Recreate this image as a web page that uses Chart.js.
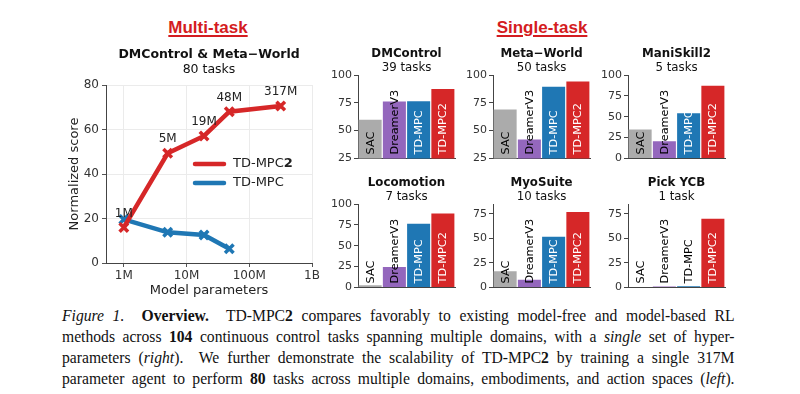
<!DOCTYPE html>
<html>
<head>
<meta charset="utf-8">
<script src="https://cdn.jsdelivr.net/npm/chart.js@4.4.0/dist/chart.umd.min.js"></script>
<style>
    html, body { margin: 0; padding: 0; background: #fff; }
    #page { position: relative; width: 800px; height: 394px; overflow: hidden; }
    canvas { position: absolute; }
    .heading {
        position: absolute; top: 18px; transform: translateX(-50%);
        font: bold 17px 'Liberation Sans', Arial, sans-serif; line-height: 20px;
        color: #d41c21; text-decoration: underline; text-decoration-thickness: 1.5px;
        text-underline-offset: 2px; white-space: nowrap;
    }
    #caption {
        position: absolute; left: 62px; top: 305px; width: 731px;
        transform: scaleX(0.92); transform-origin: 0 0;
        font: 17px 'Liberation Serif', 'Times New Roman', serif; line-height: 21px; color: #111;
    }
    #caption div { text-align: justify; text-align-last: justify; white-space: nowrap; }
</style>
</head>
<body>
<div id="page">
    <div class="heading" style="left: 208px">Multi-task</div>
    <div class="heading" style="left: 542px">Single-task</div>
    <canvas id="multi" width="330" height="300" style="left: 0; top: 0"></canvas>
    <div id="caption">
        <div><i>Figure 1.</i>&nbsp; <b>Overview.</b>&nbsp; TD-MPC<b>2</b> compares favorably to existing model-free and model-based RL</div>
        <div>methods across <b>104</b> continuous control tasks spanning multiple domains, with a <i>single</i> set of hyper-</div>
        <div>parameters (<i>right</i>).&nbsp; We further demonstrate the scalability of TD-MPC<b>2</b> by training a single 317M</div>
        <div>parameter agent to perform <b>80</b> tasks across multiple domains, embodiments, and action spaces (<i>left</i>).</div>
    </div>
</div>
<script>
// Multi-task: score vs model size
const paramCounts = [1e6, 5e6, 19e6, 48e6, 317e6];
const paramLabels = ['1M', '5M', '19M', '48M', '317M'];
const tdmpc2Scores = [16, 49.3, 57.1, 68, 70.6];
const tdmpcParams = [1e6, 5e6, 19e6, 48e6];
const tdmpcScores = [19.6, 13.8, 12.6, 6.4];
const paramTicks = [1e6, 1e7, 1e8, 1e9];
const paramTickLabels = ['1M', '10M', '100M', '1B'];
const scoreTicks = [0, 20, 40, 60, 80];

// Single-task: score per method and domain
const methods = ['SAC', 'DreamerV3', 'TD-MPC', 'TD-MPC2'];
const domains = ['DMControl', 'Meta\u2212World', 'ManiSkill2', 'Locomotion', 'MyoSuite', 'Pick YCB'];
const taskCounts = ['39 tasks', '50 tasks', '5 tasks', '7 tasks', '10 tasks', '1 task'];
const dmcontrolScores = [59.8, 76.2, 76.4, 87.5];
const metaworldScores = [69, 42, 89.4, 94.2];
const maniskillScores = [34.8, 20.5, 54, 87];
const locomotionScores = [2.5, 24.5, 76.2, 88.7];
const myosuiteScores = [16.5, 7.8, 51.5, 76.8];
const pickycbScores = [0, 0.8, 1.2, 70];
const domainScores = [dmcontrolScores, metaworldScores, maniskillScores, locomotionScores, myosuiteScores, pickycbScores];
const yMins = [25, 25, 0, 0, 0, 0];
const yMaxs = [100, 100, 100, 100, 85, 85];

const RED = '#d62728';
const BLUE = '#1f77b4';
const methodColors = ['#ababab', '#9467bd', BLUE, RED];
const FONT = 'DejaVu Sans';

// Plot areas of the six bar panels (page pixels)
const panels = [
    { left: 358, right: 455, top: 75, bottom: 163 },
    { left: 493, right: 590, top: 75, bottom: 163 },
    { left: 628, right: 725, top: 75, bottom: 163 },
    { left: 358, right: 455, top: 204, bottom: 292 },
    { left: 493, right: 590, top: 204, bottom: 292 },
    { left: 628, right: 725, top: 204, bottom: 292 }
];

// Bold title + subtitle above the plot area
const panelTitlePlugin = {
    id: 'panelTitle',
    afterDraw(chart, args, opts) {
        const { ctx, chartArea } = chart;
        const cx = (chartArea.left + chartArea.right) / 2;
        ctx.save();
        ctx.fillStyle = '#111';
        ctx.textAlign = 'center';
        ctx.textBaseline = 'middle';
        ctx.font = `bold ${opts.size}px "${FONT}"`;
        ctx.fillText(opts.title, cx, chartArea.top - opts.titleOffset);
        ctx.font = `${opts.size}px "${FONT}"`;
        ctx.fillText(opts.subtitle, cx, chartArea.top - opts.subOffset);
        ctx.restore();
    }
};

// Rotated method names inside the bars
const barLabelPlugin = {
    id: 'barLabels',
    afterDatasetsDraw(chart) {
        const { ctx, chartArea } = chart;
        const meta = chart.getDatasetMeta(0);
        const values = chart.data.datasets[0].data;
        ctx.save();
        ctx.font = `11.3px "${FONT}"`;
        ctx.textAlign = 'left';
        ctx.textBaseline = 'middle';
        meta.data.forEach((bar, i) => {
            const light = i >= 2 && values[i] > 15;
            ctx.fillStyle = light ? '#fff' : '#000';
            ctx.save();
            ctx.translate(bar.x, chartArea.bottom - 4);
            ctx.rotate(-Math.PI / 2);
            ctx.fillText(methods[i], 0, 0.5);
            ctx.restore();
        });
        ctx.restore();
    }
};

// Model size labels above the TD-MPC2 points
const sizeLabelPlugin = {
    id: 'sizeLabels',
    afterDatasetsDraw(chart) {
        const { ctx } = chart;
        const meta = chart.getDatasetMeta(0);
        ctx.save();
        ctx.font = `12px "${FONT}"`;
        ctx.fillStyle = '#222';
        ctx.textAlign = 'center';
        ctx.textBaseline = 'middle';
        meta.data.forEach((pt, i) => {
            ctx.fillText(paramLabels[i], pt.x, pt.y - 14);
        });
        ctx.restore();
    }
};

// Legend inside the plot area
const innerLegendPlugin = {
    id: 'innerLegend',
    afterDraw(chart) {
        const { ctx, chartArea } = chart;
        const x0 = chartArea.left + 89;
        let y = chartArea.top + 79;
        ctx.save();
        ctx.textBaseline = 'middle';
        chart.data.datasets.forEach(ds => {
            ctx.strokeStyle = ds.borderColor;
            ctx.lineWidth = 4.5;
            ctx.lineCap = 'round';
            ctx.beginPath();
            ctx.moveTo(x0, y);
            ctx.lineTo(x0 + 29, y);
            ctx.stroke();
            ctx.fillStyle = '#222';
            ctx.font = `13px "${FONT}"`;
            const base = ds.boldSuffix ? ds.label.slice(0, -ds.boldSuffix.length) : ds.label;
            ctx.fillText(base, x0 + 38, y);
            if (ds.boldSuffix) {
                const w = ctx.measureText(base).width;
                ctx.font = `bold 13px "${FONT}"`;
                ctx.fillText(ds.boldSuffix, x0 + 38 + w, y);
            }
            y += 19;
        });
        ctx.restore();
    }
};

function initMultiTask() {
    new Chart(document.getElementById('multi'), {
        type: 'line',
        data: {
            datasets: [
                {
                    label: 'TD-MPC2',
                    boldSuffix: '2',
                    data: paramCounts.map((x, i) => ({ x: x, y: tdmpc2Scores[i] })),
                    borderColor: RED,
                    backgroundColor: RED,
                    borderWidth: 4.5,
                    pointStyle: 'crossRot',
                    pointRadius: 6,
                    pointBorderWidth: 3.5,
                    pointBorderColor: RED
                },
                {
                    label: 'TD-MPC',
                    data: tdmpcParams.map((x, i) => ({ x: x, y: tdmpcScores[i] })),
                    borderColor: BLUE,
                    backgroundColor: BLUE,
                    borderWidth: 4.5,
                    pointStyle: 'crossRot',
                    pointRadius: 6,
                    pointBorderWidth: 3.5,
                    pointBorderColor: BLUE
                }
            ]
        },
        options: {
            responsive: false,
            animation: false,
            devicePixelRatio: 1,
            layout: { padding: { left: 60, top: 85, right: 18, bottom: 0 } },
            plugins: {
                legend: { display: false },
                tooltip: { enabled: false },
                panelTitle: { title: 'DMControl & Meta\u2212World', subtitle: '80 tasks', size: 12.5, titleOffset: 30, subOffset: 15.5 }
            },
            scales: {
                x: {
                    type: 'logarithmic',
                    min: 5.2e5,
                    max: 1e9,
                    afterBuildTicks: s => { s.ticks = paramTicks.map(v => ({ value: v })); },
                    afterFit: s => { s.height = 37; },
                    ticks: {
                        autoSkip: false, maxRotation: 0, padding: 2,
                        font: { family: FONT, size: 12 }, color: '#333',
                        callback: (v, i) => paramTickLabels[i]
                    },
                    grid: { color: '#ebebeb', tickColor: '#555', tickLength: 4 },
                    border: { color: '#444' },
                    title: { display: true, text: 'Model parameters', color: '#222', font: { family: FONT, size: 13 }, padding: { top: 0, bottom: 2 } }
                },
                y: {
                    min: 0,
                    max: 80,
                    afterBuildTicks: s => { s.ticks = scoreTicks.map(v => ({ value: v })); },
                    afterFit: s => { s.width = 46; },
                    ticks: { padding: 3, font: { family: FONT, size: 12 }, color: '#333' },
                    grid: { color: '#ebebeb', tickColor: '#555', tickLength: 4 },
                    border: { color: '#444' },
                    title: { display: true, text: 'Normalized score', color: '#222', font: { family: FONT, size: 13 }, padding: { top: 7, bottom: 0 } }
                }
            }
        },
        plugins: [panelTitlePlugin, sizeLabelPlugin, innerLegendPlugin]
    });
}

function initSingleTask() {
    const page = document.getElementById('page');
    const padLeft = 40, padTop = 35, padRight = 6, axisH = 4;
    panels.forEach((p, k) => {
        const canvas = document.createElement('canvas');
        const w = p.right - p.left + padLeft + padRight;
        const h = p.bottom - p.top + padTop + axisH;
        canvas.width = w;
        canvas.height = h;
        canvas.style.left = (p.left - padLeft) + 'px';
        canvas.style.top = (p.top - padTop) + 'px';
        page.appendChild(canvas);

        new Chart(canvas, {
            type: 'bar',
            data: {
                labels: methods,
                datasets: [{
                    data: domainScores[k],
                    backgroundColor: methodColors,
                    borderWidth: 0,
                    barPercentage: 0.95,
                    categoryPercentage: 1
                }]
            },
            options: {
                responsive: false,
                animation: false,
                devicePixelRatio: 1,
                layout: { padding: { left: 0, top: padTop, right: padRight, bottom: 0 } },
                plugins: {
                    legend: { display: false },
                    tooltip: { enabled: false },
                    panelTitle: { title: domains[k], subtitle: taskCounts[k], size: 11.8, titleOffset: 21.5, subOffset: 7.5 }
                },
                scales: {
                    x: {
                        ticks: { display: false },
                        grid: { display: false },
                        border: { color: '#444' },
                        afterFit: s => { s.height = axisH; }
                    },
                    y: {
                        min: yMins[k],
                        max: yMaxs[k],
                        afterFit: s => { s.width = padLeft; },
                        ticks: { stepSize: 25, includeBounds: false, padding: 2, font: { family: FONT, size: 11 }, color: '#333' },
                        grid: { drawOnChartArea: false, tickColor: '#444', tickLength: 4 },
                        border: { color: '#444' }
                    }
                }
            },
            plugins: [panelTitlePlugin, barLabelPlugin]
        });
    });
}

initMultiTask();
initSingleTask();
</script>
</body>
</html>
